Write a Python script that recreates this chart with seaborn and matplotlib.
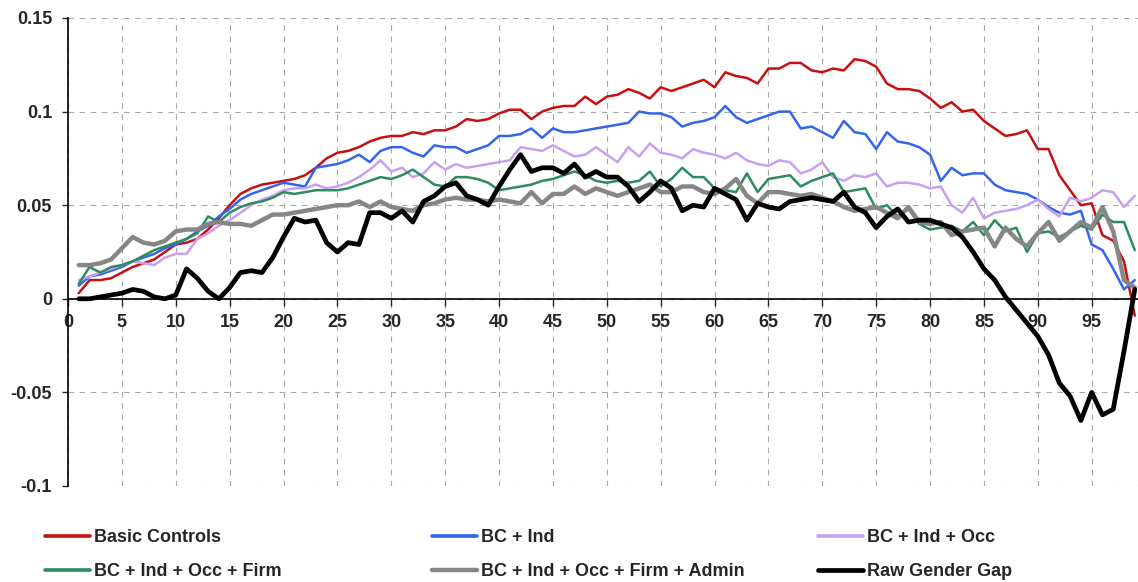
import seaborn as sns
import matplotlib.pyplot as plt
from matplotlib.lines import Line2D

# percentile of the wage distribution
pct = list(range(1, 100))

basic_controls = [
    0.003, 0.010, 0.010, 0.011, 0.014, 0.017, 0.019, 0.021, 0.025, 0.029,
    0.030, 0.032, 0.037, 0.043, 0.050, 0.056, 0.059, 0.061, 0.062, 0.063,
    0.064, 0.066, 0.070, 0.075, 0.078, 0.079, 0.081, 0.084, 0.086, 0.087,
    0.087, 0.089, 0.088, 0.090, 0.090, 0.092, 0.096, 0.095, 0.096, 0.099,
    0.101, 0.101, 0.096, 0.100, 0.102, 0.103, 0.103, 0.108, 0.104, 0.108,
    0.109, 0.112, 0.110, 0.107, 0.113, 0.111, 0.113, 0.115, 0.117, 0.113,
    0.121, 0.119, 0.118, 0.115, 0.123, 0.123, 0.126, 0.126, 0.122, 0.121,
    0.123, 0.122, 0.128, 0.127, 0.124, 0.115, 0.112, 0.112, 0.111, 0.107,
    0.102, 0.105, 0.100, 0.101, 0.095, 0.091, 0.087, 0.088, 0.090, 0.080,
    0.080, 0.066, 0.058, 0.050, 0.051, 0.034, 0.031, 0.020, -0.009]

bc_ind = [
    0.007, 0.012, 0.013, 0.015, 0.017, 0.020, 0.022, 0.024, 0.027, 0.029,
    0.032, 0.036, 0.039, 0.044, 0.048, 0.053, 0.056, 0.058, 0.060, 0.062,
    0.061, 0.060, 0.070, 0.071, 0.072, 0.074, 0.077, 0.073, 0.079, 0.081,
    0.081, 0.078, 0.076, 0.082, 0.081, 0.081, 0.078, 0.080, 0.082, 0.087,
    0.087, 0.088, 0.091, 0.086, 0.091, 0.089, 0.089, 0.090, 0.091, 0.092,
    0.093, 0.094, 0.100, 0.099, 0.099, 0.097, 0.092, 0.094, 0.095, 0.097,
    0.103, 0.097, 0.094, 0.096, 0.098, 0.100, 0.100, 0.091, 0.092, 0.089,
    0.086, 0.095, 0.089, 0.088, 0.080, 0.089, 0.084, 0.083, 0.081, 0.077,
    0.063, 0.070, 0.066, 0.067, 0.067, 0.061, 0.058, 0.057, 0.056, 0.053,
    0.049, 0.046, 0.045, 0.047, 0.029, 0.026, 0.016, 0.005, 0.010]

bc_ind_occ = [
    0.010, 0.012, 0.014, 0.016, 0.018, 0.020, 0.019, 0.018, 0.022, 0.024,
    0.024, 0.032, 0.035, 0.039, 0.042, 0.046, 0.050, 0.053, 0.055, 0.058,
    0.059, 0.059, 0.061, 0.059, 0.060, 0.062, 0.065, 0.069, 0.074, 0.068,
    0.070, 0.065, 0.067, 0.073, 0.069, 0.072, 0.070, 0.071, 0.072, 0.073,
    0.074, 0.081, 0.080, 0.079, 0.082, 0.079, 0.076, 0.077, 0.081, 0.077,
    0.073, 0.081, 0.076, 0.083, 0.078, 0.077, 0.075, 0.080, 0.078, 0.077,
    0.075, 0.078, 0.074, 0.072, 0.071, 0.074, 0.073, 0.067, 0.069, 0.073,
    0.065, 0.063, 0.066, 0.065, 0.067, 0.060, 0.062, 0.062, 0.061, 0.059,
    0.060, 0.050, 0.046, 0.054, 0.043, 0.046, 0.047, 0.048, 0.050, 0.053,
    0.048, 0.044, 0.054, 0.052, 0.054, 0.058, 0.057, 0.049, 0.055]

bc_ind_occ_firm = [
    0.008, 0.017, 0.014, 0.017, 0.018, 0.020, 0.023, 0.026, 0.028, 0.030,
    0.032, 0.035, 0.044, 0.041, 0.046, 0.049, 0.051, 0.052, 0.054, 0.057,
    0.056, 0.057, 0.058, 0.058, 0.058, 0.059, 0.061, 0.063, 0.065, 0.064,
    0.066, 0.069, 0.065, 0.061, 0.060, 0.065, 0.065, 0.064, 0.062, 0.058,
    0.059, 0.060, 0.061, 0.063, 0.064, 0.066, 0.068, 0.066, 0.063, 0.062,
    0.063, 0.062, 0.063, 0.068, 0.060, 0.064, 0.070, 0.065, 0.065, 0.059,
    0.058, 0.057, 0.067, 0.057, 0.064, 0.065, 0.066, 0.060, 0.063, 0.065,
    0.067, 0.057, 0.058, 0.059, 0.048, 0.050, 0.044, 0.048, 0.040, 0.037,
    0.038, 0.039, 0.036, 0.041, 0.034, 0.042, 0.036, 0.038, 0.025, 0.035,
    0.036, 0.033, 0.036, 0.039, 0.037, 0.045, 0.041, 0.041, 0.026]

bc_ind_occ_firm_admin = [
    0.018, 0.018, 0.019, 0.021, 0.027, 0.033, 0.030, 0.029, 0.031, 0.036,
    0.037, 0.037, 0.040, 0.041, 0.040, 0.040, 0.039, 0.042, 0.045, 0.045,
    0.046, 0.047, 0.048, 0.049, 0.050, 0.050, 0.052, 0.049, 0.052, 0.049,
    0.048, 0.047, 0.050, 0.051, 0.053, 0.054, 0.053, 0.053, 0.052, 0.053,
    0.052, 0.051, 0.057, 0.051, 0.056, 0.056, 0.060, 0.056, 0.059, 0.057,
    0.055, 0.057, 0.059, 0.061, 0.057, 0.057, 0.060, 0.060, 0.057, 0.056,
    0.059, 0.064, 0.055, 0.051, 0.057, 0.057, 0.056, 0.055, 0.056, 0.054,
    0.052, 0.049, 0.047, 0.048, 0.049, 0.046, 0.043, 0.049, 0.041, 0.040,
    0.041, 0.034, 0.036, 0.037, 0.038, 0.028, 0.038, 0.032, 0.028, 0.035,
    0.041, 0.031, 0.036, 0.041, 0.038, 0.049, 0.036, 0.010, 0.006]

raw_gap = [
    0.000, 0.000, 0.001, 0.002, 0.003, 0.005, 0.004, 0.001, 0.000, 0.002,
    0.016, 0.011, 0.004, 0.000, 0.006, 0.014, 0.015, 0.014, 0.022, 0.033,
    0.043, 0.041, 0.042, 0.030, 0.025, 0.030, 0.029, 0.046, 0.046, 0.043,
    0.047, 0.041, 0.052, 0.055, 0.060, 0.062, 0.055, 0.053, 0.050, 0.060,
    0.069, 0.077, 0.068, 0.070, 0.070, 0.067, 0.072, 0.065, 0.068, 0.065,
    0.065, 0.060, 0.052, 0.057, 0.063, 0.059, 0.047, 0.050, 0.049, 0.059,
    0.056, 0.053, 0.042, 0.051, 0.049, 0.048, 0.052, 0.053, 0.054, 0.053,
    0.052, 0.057, 0.049, 0.046, 0.038, 0.044, 0.048, 0.041, 0.042, 0.042,
    0.040, 0.038, 0.033, 0.025, 0.016, 0.010, 0.001, -0.006, -0.013, -0.020,
    -0.030, -0.045, -0.052, -0.065, -0.050, -0.062, -0.059, -0.028, 0.005]

labels = ["Basic Controls", "BC + Ind", "BC + Ind + Occ",
          "BC + Ind + Occ + Firm", "BC + Ind + Occ + Firm + Admin", "Raw Gender Gap"]
values = [basic_controls, bc_ind, bc_ind_occ, bc_ind_occ_firm,
          bc_ind_occ_firm_admin, raw_gap]
colors = ["#C81010", "#3366EE", "#C8A0F0", "#2E8B5E", "#868686", "#000000"]
widths = [1.8, 1.8, 1.8, 1.8, 3.2, 3.4]

sns.set_theme(style="white")
plt.rcParams["font.family"] = ["Liberation Sans", "DejaVu Sans"]
plt.rcParams["axes.unicode_minus"] = False

fig = plt.figure(figsize=(11.38, 5.82), dpi=100)
ax = fig.add_axes([68 / 1138, 1 - 486 / 582, 1070 / 1138, 468 / 582])

for lab, vals, col, lw in zip(labels, values, colors, widths):
    sns.lineplot(x=pct, y=vals, color=col, linewidth=lw, ax=ax, label=lab, legend=False)

ax.set_xlim(0, 99.3)
ax.set_ylim(-0.1, 0.15)
ax.set_xticks(range(0, 100, 5))
ax.set_yticks([-0.1, -0.05, 0, 0.05, 0.1, 0.15])
ax.set_yticklabels(["-0.1", "-0.05", "0", "0.05", "0.1", "0.15"])

# dashed grid
ax.grid(True, color="#A8A8A8", linestyle=(0, (5, 5)), linewidth=0.8)
ax.set_axisbelow(True)

# axes: left spine + horizontal axis through zero
for s in ["top", "right"]:
    ax.spines[s].set_visible(False)
ax.spines["left"].set_color("black")
ax.spines["left"].set_linewidth(1.2)
ax.spines["bottom"].set_position(("data", 0))
ax.spines["bottom"].set_color("black")
ax.spines["bottom"].set_linewidth(1.2)
ax.tick_params(axis="x", direction="out", length=5, width=1, pad=6,
               bottom=True, labelsize=13)
ax.tick_params(axis="y", direction="out", length=4.5, width=1, pad=7,
               left=True, labelsize=13)
for t in ax.get_xticklabels() + ax.get_yticklabels():
    t.set_fontweight("bold")
ax.set_xlabel("")
ax.set_ylabel("")

# legend: three columns of two entries each
handles = [Line2D([], [], color=c, linewidth=max(lw, 2.6)) for c, lw in zip(colors, widths)]
col_x = [45, 432, 818]
for i, x0 in enumerate(col_x):
    idx = [i, i + 3]
    fig.legend([handles[j] for j in idx], [labels[j] for j in idx],
               loc="upper left", bbox_to_anchor=(x0 / 1138, 1 - 529 / 582),
               frameon=False, borderpad=0, borderaxespad=0, handlelength=2.5,
               handletextpad=0.2, labelspacing=0.95,
               prop={"size": 13, "weight": "bold"})

plt.savefig("out.png", dpi=100)
